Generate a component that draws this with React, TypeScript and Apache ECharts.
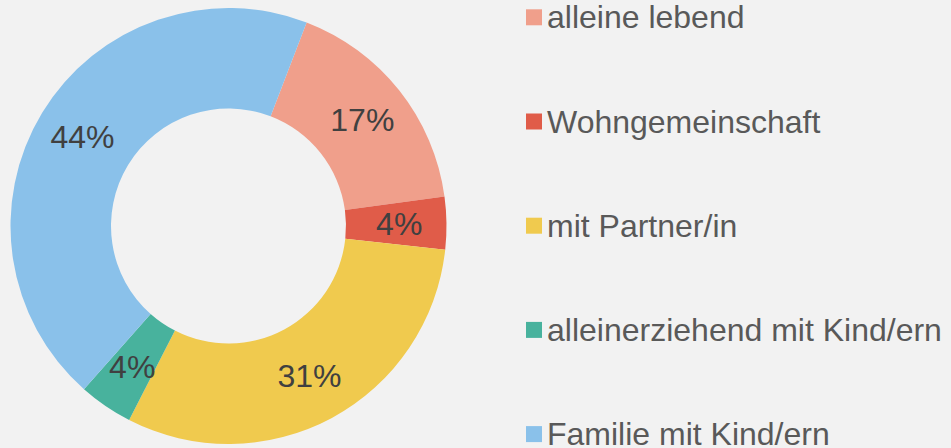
import React, { useEffect, useRef } from "react";
import * as echarts from "echarts";

const categories = [
  "alleine lebend",
  "Wohngemeinschaft",
  "mit Partner/in",
  "alleinerziehend mit Kind/ern",
  "Familie mit Kind/ern",
];
const values = [17.0, 3.9, 30.8, 4.0, 44.3];
const colors = ["#F09F8B", "#E05C49", "#F0CA4E", "#48B29D", "#8AC1EA"];

const FONT = "'Liberation Sans', Arial, Helvetica, sans-serif";

export default function App() {
  const ref = useRef<HTMLDivElement>(null);
  useEffect(() => {
    document.body.style.margin = "0";
    if (!ref.current) return;
    const chart = echarts.init(ref.current, undefined, { renderer: "svg" });
    chart.setOption({
      animation: false,
      backgroundColor: "#F2F2F2",
      color: colors,
      legend: {
        orient: "vertical",
        left: 526,
        top: 1.3,
        width: 430,
        height: 600,
        padding: 0,
        itemWidth: 16,
        itemHeight: 16,
        itemGap: 72.2,
        icon: "rect",
        data: categories,
        textStyle: {
          fontFamily: FONT,
          fontSize: 32,
          lineHeight: 32,
          color: "#595959",
        },
      },
      series: [
        {
          type: "pie",
          center: [228.5, 226],
          radius: [117.5, 218],
          startAngle: 69,
          clockwise: true,
          avoidLabelOverlap: false,
          label: {
            show: true,
            position: "inside",
            fontFamily: FONT,
            fontSize: 32,
            color: "#404040",
            formatter: (p: any) => Math.round(p.percent) + "%",
          },
          labelLine: { show: false },
          emphasis: { disabled: true },
          data: categories.map((name, i) => ({ name, value: values[i] })),
        },
      ],
    });
    return () => chart.dispose();
  }, []);
  return (
    <div
      ref={ref}
      style={{ position: "absolute", left: 0, top: 0, width: 951, height: 448 }}
    />
  );
}
